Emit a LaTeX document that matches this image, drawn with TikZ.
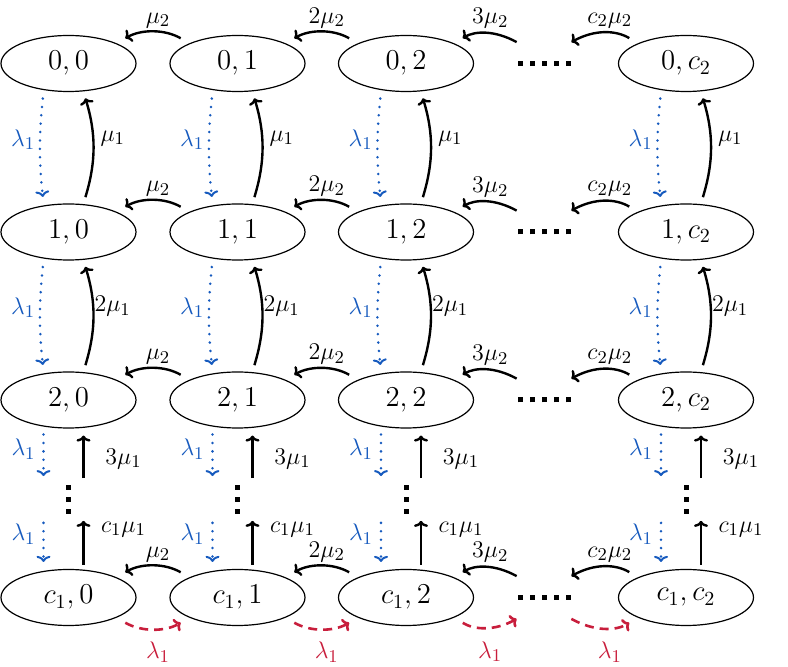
\documentclass[tikz,border=0pt]{standalone}
\usetikzlibrary{arrows.meta,shapes.geometric}
\definecolor{lblue}{RGB}{22,90,190}
\definecolor{lred}{RGB}{200,30,60}
\newcommand\dsq{\rule{2.5pt}{2.5pt}}
\begin{document}
\begin{tikzpicture}[x=0.5pt,y=-0.5pt,
  state/.style={draw, line width=0.6pt, ellipse, minimum width=67.5pt, minimum height=28pt, inner sep=0pt, font=\fontsize{14}{16}\selectfont},
  hdots/.style={minimum width=27pt, minimum height=21pt, inner sep=0pt},
  vdots/.style={minimum width=10pt, minimum height=21pt, inner sep=0pt},
  lab/.style={font=\fontsize{12.5}{14}\selectfont},
  blkArr/.style={line width=1.2pt, -{Computer Modern Rightarrow[length=3pt,width=7pt]}},
  hArr/.style={blkArr, shorten >=5pt, shorten <=5pt},
  blArr/.style={draw=lblue, line width=1.4pt, line cap=round, dash pattern=on 0pt off 4.2pt, -{Computer Modern Rightarrow[length=3pt,width=7pt,line width=1pt]}},
  rdArr/.style={draw=lred, line width=1.3pt, dash pattern=on 4.5pt off 3pt, -{Computer Modern Rightarrow[length=3pt,width=7pt]}, shorten >=5pt, shorten <=5pt},
  hl/.style={lab, above, xshift=2.5pt, yshift=-1.5pt},
  rl/.style={lab, text=lred, below=3pt, xshift=2.5pt},
  bl/.style={lab, text=lblue, xshift=-8.5pt},
  bll/.style={lab, text=lblue, xshift=-10pt},
  kl/.style={lab, xshift=10pt},
  kll/.style={lab, xshift=20pt}
]
\useasboundingbox (0,0) rectangle (788,667);
% states
\foreach \r/\y/\rl in {0/63.5/0, 1/232/1, 2/400/2, 3/597.5/c_1}{
  \foreach \c/\xx/\cl in {0/68.5/0, 1/237.5/1, 2/406/2, 3/686/c_2}{
    \node[state] (n\r\c) at (\xx,\y) {$\rl,\cl$};
  }
  \node[hdots] (hd\r) at (544,\y) {\dsq\hspace{3.5pt}\dsq\hspace{3.5pt}\dsq\hspace{3.5pt}\dsq\hspace{3.5pt}\dsq};
}
\foreach \c/\xx in {0/68.5, 1/237.5, 2/406, 3/686}{
  \node[vdots] (vd\c) at (\xx,499.5) {\vbox{\offinterlineskip\hbox{\dsq}\kern3.5pt\hbox{\dsq}\kern3.5pt\hbox{\dsq}}};
}
% horizontal service arrows
\foreach \r in {0,1,2,3}{
  \draw[hArr] (n\r1.north west) to[bend right=30] node[hl] {$\mu_2$} (n\r0.north east);
  \draw[hArr] (n\r2.north west) to[bend right=30] node[hl] {$2\mu_2$} (n\r1.north east);
  \draw[hArr, shorten <=0pt] (hd\r.north west) to[bend right=30] node[hl] {$3\mu_2$} (n\r2.north east);
  \draw[hArr, shorten >=0pt] (n\r3.north west) to[bend right=30] node[hl] {$c_2\mu_2$} (hd\r.north east);
}
% vertical arrows
\foreach \c in {0,1,2,3}{
  \draw[blArr, shorten <=3.25pt, shorten >=3.25pt] ([xshift=-12.5pt]n0\c.south) to[bend right=6] node[bl, pos=.42] {$\lambda_1$} ([xshift=-12.5pt]n1\c.north);
  \draw[blkArr, shorten <=3.25pt, shorten >=3.25pt] ([xshift=7.5pt]n1\c.north) to[bend right=17] node[kl, pos=.59] {$\mu_1$} ([xshift=7.5pt]n0\c.south);
  \draw[blArr, shorten <=3.25pt, shorten >=3.25pt] ([xshift=-12.5pt]n1\c.south) to[bend right=6] node[bl, pos=.42] {$\lambda_1$} ([xshift=-12.5pt]n2\c.north);
  \draw[blkArr, shorten <=3.25pt, shorten >=3.25pt] ([xshift=7.5pt]n2\c.north) to[bend right=17] node[kl, pos=.59] {$2\mu_1$} ([xshift=7.5pt]n1\c.south);
  \draw[blArr, shorten <=3pt, shorten >=1pt] ([xshift=-12.5pt]n2\c.south) -- node[bll, pos=.42] {$\lambda_1$} ([xshift=-12.5pt]vd\c.north);
  \draw[blkArr, shorten >=3.5pt] ([xshift=7.5pt]vd\c.north) -- node[kll, pos=.39] {$3\mu_1$} ([xshift=7.5pt]n2\c.south);
  \draw[blArr, shorten <=1pt, shorten >=3.5pt] ([xshift=-12.5pt]vd\c.south) -- node[bll, pos=.28] {$\lambda_1$} ([xshift=-12.5pt]n3\c.north);
  \draw[blkArr, shorten <=2pt] ([xshift=7.5pt]n3\c.north) -- node[kll, pos=.82] {$c_1\mu_1$} ([xshift=7.5pt]vd\c.south);
}
% arrival arrows on the last row
\draw[rdArr] (n30.south east) to[bend right=30] node[rl] {$\lambda_1$} (n31.south west);
\draw[rdArr] (n31.south east) to[bend right=30] node[rl] {$\lambda_1$} (n32.south west);
\draw[rdArr, shorten >=0pt] (n32.south east) to[bend right=30] node[rl] {$\lambda_1$} (hd3.south west);
\draw[rdArr, shorten <=0pt] (hd3.south east) to[bend right=30] node[rl] {$\lambda_1$} (n33.south west);
\end{tikzpicture}
\end{document}
